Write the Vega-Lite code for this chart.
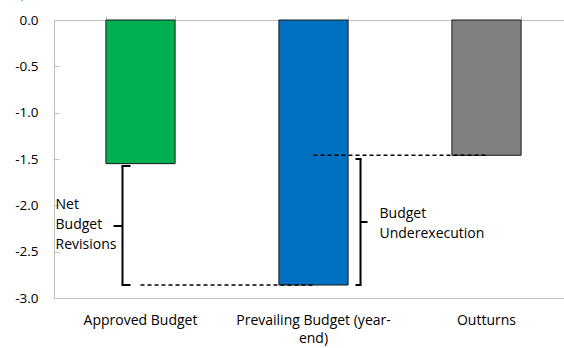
{
  "$schema": "https://vega.github.io/schema/vega-lite/v6.json",
  "autosize": "none",
  "padding": {"left": 54, "top": 20, "right": 0, "bottom": 50},
  "width": 519,
  "height": 278,
  "background": "white",
  "title": {"text": "(In percent of GDP)", "anchor": "start", "frame": "group", "dx": -54, "offset": 13, "fontSize": 14, "font": "Open Sans", "fontWeight": "normal", "color": "#5b9bd5"},
  "config": {
    "view": {"stroke": null},
    "font": "Open Sans",
    "axis": {"labelFont": "Open Sans", "labelFontSize": 14, "labelColor": "#000000", "domainColor": "#bfbfbf", "tickColor": "#bfbfbf", "grid": false, "title": null}
  },
  "datasets": {
    "bars": [
      {"cat": "Approved Budget", "value": -1.55},
      {"cat": "Prevailing Budget (year-end)", "value": -2.86},
      {"cat": "Outturns", "value": -1.46}
    ],
    "links": [
      {"from": "Approved Budget", "to": "Prevailing Budget (year-end)", "y": -2.86},
      {"from": "Prevailing Budget (year-end)", "to": "Outturns", "y": -1.46}
    ],
    "brackets": [
      {"side": "left", "cat": "Approved Budget", "top": -1.575, "mid": -2.223, "bottom": -2.86, "label": "Net Budget Revisions", "labelY": -2.0},
      {"side": "right", "cat": "Prevailing Budget (year-end)", "top": -1.5, "mid": -2.18, "bottom": -2.86, "label": "Budget Underexecution", "labelY": -2.09}
    ]
  },
  "layer": [
    {
      "data": {"name": "bars"},
      "mark": {"type": "bar", "stroke": "#1a1a1a", "strokeWidth": 1},
      "encoding": {
        "x": {"field": "cat", "type": "nominal", "sort": null,
          "scale": {"domain": ["Approved Budget", "Prevailing Budget (year-end)", "Outturns"], "paddingInner": 0.6, "paddingOuter": 0.3},
          "axis": {"orient": "bottom", "labelAngle": 0, "ticks": false, "labelPadding": 15, "labelLineHeight": 18,
            "labelExpr": "datum.label == 'Prevailing Budget (year-end)' ? ['Prevailing Budget (year-', 'end)'] : datum.label"}},
        "y": {"field": "value", "type": "quantitative",
          "scale": {"domain": [-3, 0], "nice": false, "zero": false},
          "axis": {"values": [0, -0.5, -1, -1.5, -2, -2.5, -3], "labelExpr": "(datum.value < 0 ? '-' : '') + format(abs(datum.value), '.1f')", "tickSize": -5, "labelPadding": 21, "labelFontSize": 13.5, "domain": true}},
        "color": {"field": "cat", "type": "nominal", "legend": null,
          "scale": {"domain": ["Approved Budget", "Prevailing Budget (year-end)", "Outturns"], "range": ["#00b050", "#0070c0", "#808080"]}}
      }
    },
    {
      "data": {"name": "bars"},
      "mark": {"type": "rule", "opacity": 0},
      "encoding": {
        "x": {"field": "cat", "type": "nominal", "sort": null,
          "axis": {"orient": "top", "labels": false, "tickBand": "extent", "tickSize": 4, "domain": true}},
        "y": {"datum": 0, "type": "quantitative"}
      }
    },
    {
      "data": {"name": "links"},
      "mark": {"type": "rule", "strokeDash": [4, 3], "strokeWidth": 1.5, "color": "#000000"},
      "encoding": {
        "x": {"field": "from", "type": "nominal", "axis": null},
        "x2": {"field": "to"},
        "y": {"field": "y", "type": "quantitative"}
      }
    },
    {
      "data": {"name": "brackets"},
      "transform": [{"filter": "datum.side == 'left'"}],
      "layer": [
        {"mark": {"type": "rule", "strokeWidth": 2, "color": "#000000", "xOffset": -18},
          "encoding": {"x": {"field": "cat", "type": "nominal", "axis": null}, "y": {"field": "top", "type": "quantitative"}, "y2": {"field": "bottom"}}},
        {"mark": {"type": "rule", "strokeWidth": 2, "color": "#000000", "xOffset": -19, "x2Offset": -10},
          "encoding": {"x": {"field": "cat", "type": "nominal", "axis": null}, "x2": {"field": "cat"}, "y": {"field": "top", "type": "quantitative"}}},
        {"mark": {"type": "rule", "strokeWidth": 2, "color": "#000000", "xOffset": -19, "x2Offset": -10},
          "encoding": {"x": {"field": "cat", "type": "nominal", "axis": null}, "x2": {"field": "cat"}, "y": {"field": "bottom", "type": "quantitative"}}},
        {"mark": {"type": "rule", "strokeWidth": 2, "color": "#000000", "xOffset": -27, "x2Offset": -18},
          "encoding": {"x": {"field": "cat", "type": "nominal", "axis": null}, "x2": {"field": "cat"}, "y": {"field": "mid", "type": "quantitative"}}},
        {"mark": {"type": "text", "align": "left", "baseline": "middle", "lineBreak": " ", "lineHeight": 20, "fontSize": 14, "color": "#000000", "xOffset": -85},
          "encoding": {"x": {"field": "cat", "type": "nominal", "axis": null}, "y": {"field": "labelY", "type": "quantitative"}, "text": {"field": "label"}}}
      ]
    },
    {
      "data": {"name": "brackets"},
      "transform": [{"filter": "datum.side == 'right'"}],
      "layer": [
        {"mark": {"type": "rule", "strokeWidth": 2, "color": "#000000", "xOffset": 47},
          "encoding": {"x": {"field": "cat", "type": "nominal", "axis": null}, "y": {"field": "top", "type": "quantitative"}, "y2": {"field": "bottom"}}},
        {"mark": {"type": "rule", "strokeWidth": 2, "color": "#000000", "xOffset": 42, "x2Offset": 48},
          "encoding": {"x": {"field": "cat", "type": "nominal", "axis": null}, "x2": {"field": "cat"}, "y": {"field": "top", "type": "quantitative"}}},
        {"mark": {"type": "rule", "strokeWidth": 2, "color": "#000000", "xOffset": 42, "x2Offset": 48},
          "encoding": {"x": {"field": "cat", "type": "nominal", "axis": null}, "x2": {"field": "cat"}, "y": {"field": "bottom", "type": "quantitative"}}},
        {"mark": {"type": "rule", "strokeWidth": 2, "color": "#000000", "xOffset": 47, "x2Offset": 54},
          "encoding": {"x": {"field": "cat", "type": "nominal", "axis": null}, "x2": {"field": "cat"}, "y": {"field": "mid", "type": "quantitative"}}},
        {"mark": {"type": "text", "align": "left", "baseline": "middle", "lineBreak": " ", "lineHeight": 20, "fontSize": 14, "color": "#000000", "xOffset": 66},
          "encoding": {"x": {"field": "cat", "type": "nominal", "axis": null}, "y": {"field": "labelY", "type": "quantitative"}, "text": {"field": "label"}}}
      ]
    }
  ],
  "resolve": {"axis": {"x": "independent"}}
}
